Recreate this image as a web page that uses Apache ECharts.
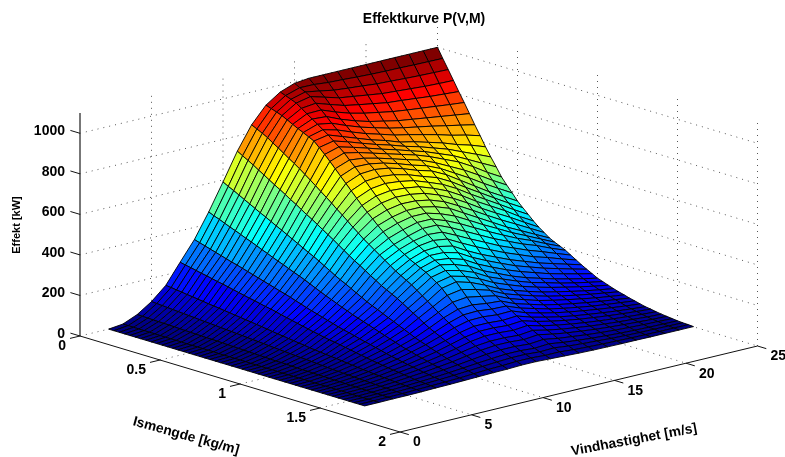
<!DOCTYPE html>
<html><head><meta charset="utf-8">
<style>html,body{margin:0;padding:0;background:#fff}#c{width:785px;height:457px;filter:blur(0.35px)}</style>
<script src="https://cdn.jsdelivr.net/npm/echarts@6/dist/echarts.min.js"></script>
</head><body><div id="c"></div>
<script>
const windSpeeds=[2,3,4,5,6,7,8,9,10,11,12,13,14,15,16,17,18,19,20,21,22,23,24,25];
const iceAmounts=[0,.033,.067,.1,.133,.167,.2,.233,.267,.3,.333,.367,.4,.433,.467,.5,.533,.567,.6,.633,.667,.7,.733,.767,.8,.833,.867,.9,.933,.967,1,1.033,1.067,1.1,1.133,1.167,1.2,1.233,1.267,1.3,1.333,1.367,1.4,1.433,1.467,1.5,1.533,1.567,1.6];
const powerV02=[0,0,0,0,0,0,0,0,0,0,0,0,0,0,0,0,0,0,0,0,0,0,0,0,0,0,0,0,0,0,0,0,0,0,0,0,0,0,0,0,0,0,0,0,0,0,0,0,0];
const powerV03=[8,8,8,7,7,7,7,6,6,6,6,6,5,5,5,5,5,5,4,4,4,4,4,4,3,3,3,3,3,3,2,2,2,2,2,2,1,1,1,1,1,1,1,0,0,0,0,0,0];
const powerV04=[38,37,36,35,34,34,33,32,31,30,29,28,27,26,26,25,24,23,22,21,20,19,18,17,16,15,14,14,13,12,11,10,10,9,8,8,7,6,6,5,4,4,3,3,2,2,2,1,1];
const powerV05=[85,83,81,79,77,75,73,71,69,67,65,63,61,59,57,55,53,51,49,47,45,43,41,39,37,35,33,31,29,28,26,24,22,20,18,17,15,14,12,11,10,8,7,6,5,4,3,2,1];
const powerV06=[148,145,141,138,134,131,127,124,120,117,114,110,107,103,100,96,93,89,86,82,78,74,71,67,64,60,57,53,50,47,44,41,39,36,33,30,27,24,22,19,17,15,13,11,9,7,5,4,2];
const powerV07=[245,239,234,228,222,217,211,205,200,194,188,182,176,170,165,159,153,148,142,135,129,123,117,111,105,99,94,88,83,79,74,69,64,59,54,49,44,40,36,32,28,25,21,18,14,11,9,6,4];
const powerV08=[340,332,324,316,308,300,292,284,277,269,261,253,245,237,229,221,213,205,197,188,179,170,162,154,146,138,130,122,115,109,102,95,88,82,75,68,61,55,50,44,39,34,29,24,20,15,12,8,5];
const powerV09=[459,448,438,427,416,406,395,384,374,363,352,341,330,319,309,298,287,277,266,254,242,230,219,208,197,186,176,165,156,147,138,129,119,110,101,92,83,75,68,60,53,46,39,33,27,21,16,11,7];
const powerV10=[590,576,563,549,535,521,507,493,480,466,452,439,425,411,397,383,369,356,342,326,311,295,281,268,254,240,226,212,200,189,177,165,154,142,130,118,106,96,87,77,68,59,50,42,35,27,21,15,9];
const powerV11=[725,710,695,680,663,647,630,614,598,582,565,549,532,515,499,482,465,447,430,412,393,375,358,342,325,308,292,275,262,248,235,219,202,186,170,153,137,124,111,98,87,75,64,54,44,34,26,19,11];
const powerV12=[838,825,812,798,780,763,745,727,710,692,672,652,632,611,591,570,548,527,505,483,462,440,422,403,385,367,348,330,315,300,285,266,247,228,209,189,170,153,137,120,106,92,78,65,53,40,31,21,12];
const powerV13=[918,909,900,890,877,863,850,838,825,812,788,762,735,707,678,650,622,593,565,540,515,490,467,443,420,403,387,370,357,343,330,313,295,275,248,222,195,175,155,135,118,102,85,72,58,45,35,25,15];
const powerV14=[966,956,946,935,917,898,880,862,843,825,803,782,760,733,707,680,652,623,595,568,542,515,492,468,445,428,412,395,380,365,350,330,310,290,260,230,200,178,157,135,118,102,85,72,58,45,35,25,15];
const powerV15=[992,978,965,950,925,900,875,850,825,800,782,763,745,725,705,685,658,632,605,580,555,530,508,487,465,443,422,400,378,357,335,313,292,270,243,217,190,170,150,130,113,97,80,67,53,40,30,21,12];
const powerV16=[1000,977,953,930,902,873,845,822,798,775,758,742,725,708,692,675,650,625,600,577,553,530,508,487,465,438,412,385,360,335,310,287,263,240,222,203,185,168,152,135,119,104,88,74,59,45,33,21,9];
const powerV17=[1000,970,940,910,880,850,820,797,773,750,735,720,705,688,672,655,633,612,590,565,540,515,488,462,435,405,375,345,320,295,270,248,227,205,188,172,155,141,126,112,99,85,72,60,47,35,25,15,6];
const powerV18=[1000,967,933,900,867,833,800,777,753,730,715,700,685,667,648,630,608,587,565,540,515,490,460,430,400,370,340,310,287,263,240,220,200,180,165,150,135,122,108,95,83,72,60,49,39,28,20,12,4];
const powerV19=[1000,963,927,890,855,820,785,758,732,705,692,678,665,647,628,610,585,560,535,507,478,450,422,393,365,337,308,280,257,233,210,193,175,158,144,129,115,103,92,80,70,60,50,41,31,22,16,9,3];
const powerV20=[1000,960,920,880,843,807,770,743,717,690,673,657,640,618,597,575,548,522,495,467,438,410,383,357,330,303,277,250,228,207,185,169,154,138,125,113,100,89,79,68,59,50,41,33,25,17,12,7,2];
const powerV21=[1000,958,917,875,837,798,760,730,700,670,650,630,610,583,557,530,503,477,450,423,397,370,347,323,300,275,250,225,205,185,165,151,136,122,110,99,87,77,68,58,50,42,34,27,20,13,9,5,2];
const powerV22=[1000,957,913,870,830,790,750,717,683,650,627,603,580,548,517,485,460,435,410,383,357,330,310,290,270,247,223,200,182,163,145,132,120,107,96,86,75,66,58,49,42,35,28,22,16,10,7,4,1];
const powerV23=[1000,955,910,865,823,782,740,702,663,625,597,568,540,507,473,440,417,393,370,345,320,295,278,262,245,223,202,180,163,145,128,116,105,93,84,74,65,57,49,41,35,29,23,18,13,8,6,3,1];
const powerV24=[1000,954,908,862,818,774,730,688,647,605,568,532,495,463,432,400,375,350,325,303,282,260,245,230,215,197,178,160,144,128,112,102,91,81,73,64,56,49,41,34,29,23,18,14,11,7,5,3,1];
const powerV25=[1000,953,906,860,813,767,720,673,627,580,538,497,455,423,392,360,335,310,285,263,244,225,212,200,188,172,156,140,126,112,98,89,79,70,62,55,47,41,34,28,24,19,15,12,9,6,4,3,1];
const powerRows=[powerV02,powerV03,powerV04,powerV05,powerV06,powerV07,powerV08,powerV09,powerV10,powerV11,powerV12,powerV13,powerV14,powerV15,powerV16,powerV17,powerV18,powerV19,powerV20,powerV21,powerV22,powerV23,powerV24,powerV25];
const powerTicks=[0,200,400,600,800,1000];
const iceTicks=[0,0.5,1,1.5,2];
const windTicks=[0,5,10,15,20,25];
const powerTop=1100, iceTop=2, windTop=25, colourTop=1000;

function project(v,m,p){return [80+160*m+14.3*v, 336+48*m-3.44*v-0.2027*p];}
function jet(t){t=Math.max(0,Math.min(1,t));
  const c=x=>Math.round(255*Math.max(0,Math.min(1,1.5-Math.abs(4*t-x))));
  return 'rgb('+c(3)+','+c(2)+','+c(1)+')';}

const cells=[];
for(let i=windSpeeds.length-2;i>=0;i--)for(let j=0;j<iceAmounts.length-1;j++)cells.push([i,j]);

const gridLines=[];
for(const z of powerTicks){ if(z===0)continue;
  gridLines.push([[0,0,z],[windTop,0,z]],[[windTop,0,z],[windTop,iceTop,z]]);}
gridLines.push([[windTop,0,0],[windTop,0,powerTop]]);
for(const v of windTicks){
  if(v>0&&v<windTop) gridLines.push([[v,0,0],[v,0,powerTop]]);
  if(v>0&&v<windTop) gridLines.push([[v,0,0],[v,iceTop,0]]);
}
for(const m of iceTicks){
  if(m>0) gridLines.push([[windTop,m,0],[windTop,m,powerTop]]);
  if(m>0&&m<iceTop) gridLines.push([[0,m,0],[windTop,m,0]]);
}
gridLines.push([[0,0,0],[windTop,0,0]],[[windTop,0,0],[windTop,iceTop,0]]);

const axisLines=[
  [[0,0,0],[0,0,powerTop]],[[0,0,0],[0,iceTop,0]],[[0,iceTop,0],[windTop,iceTop,0]]];
for(const z of powerTicks) axisLines.push([[0,0,z],[0,-0.06,z]]);
for(const m of iceTicks) axisLines.push([[0,m,0],[-0.7,m,0]]);
for(const v of windTicks) axisLines.push([[v,iceTop,0],[v,iceTop+0.055,0]]);

const labels=[];
for(const z of powerTicks) labels.push({t:String(z),c:project(0,0,z),dx:-15,dy:-2,a:'right'});
for(const m of iceTicks) labels.push({t:String(m),c:project(0,m,0),dx:-14,dy:10,a:'right'});
for(const v of windTicks) labels.push({t:String(v),c:project(v,iceTop,0),dx:13,dy:10.5,a:'left'});

const F='"Liberation Sans",Arial,sans-serif';
const idx=a=>a.map((_,i)=>[i,i]);
const chart=echarts.init(document.getElementById('c'),null,{renderer:'canvas',width:785,height:457});
function lineSeries(list,z,style){return {type:'custom',coordinateSystem:'cartesian2d',z,silent:true,clip:false,animation:false,
  data:idx(list),renderItem:(p,api)=>{const l=list[p.dataIndex];
    const a=api.coord(project(l[0][0],l[0][1],l[0][2])),b=api.coord(project(l[1][0],l[1][1],l[1][2]));
    return {type:'line',shape:{x1:a[0],y1:a[1],x2:b[0],y2:b[1]},style:style(l)};}};}
chart.setOption({
  animation:false,
  title:{text:'Effektkurve P(V,M)',left:419,top:7,textAlign:'center',textStyle:{fontFamily:F,fontSize:14,fontWeight:'bold',color:'#000'}},
  grid:{left:0,right:0,top:0,bottom:0},
  xAxis:{type:'value',min:0,max:785,show:false},
  yAxis:{type:'value',min:0,max:457,inverse:true,show:false},
  graphic:[
    {type:'text',x:186,y:436,rotation:-15.5*Math.PI/180,style:{text:'Ismengde [kg/m]',font:'bold 13.8px '+F,fill:'#000',align:'center',verticalAlign:'middle'}},
    {type:'text',x:634,y:440,rotation:10.6*Math.PI/180,style:{text:'Vindhastighet [m/s]',font:'bold 13.8px '+F,fill:'#000',align:'center',verticalAlign:'middle'}},
    {type:'text',x:17,y:225,rotation:Math.PI/2,style:{text:'Effekt [kW]',font:'bold 11px '+F,fill:'#000',align:'center',verticalAlign:'middle'}}
  ],
  series:[
    lineSeries(gridLines,1,()=>({stroke:'#555',lineWidth:1,lineDash:[1,5]})),
    {type:'custom',coordinateSystem:'cartesian2d',z:2,silent:true,clip:false,animation:false,data:cells,
     renderItem:(p,api)=>{const [i,j]=cells[p.dataIndex];
       const pts=[[i,j],[i+1,j],[i+1,j+1],[i,j+1]].map(q=>api.coord(project(windSpeeds[q[0]],iceAmounts[q[1]],powerRows[q[0]][q[1]])));
       return {type:'polygon',shape:{points:pts},style:{fill:jet(powerRows[i][j]/colourTop),stroke:'#000',lineWidth:0.9,lineJoin:'round'}};}},
    lineSeries(axisLines,3,l=>({stroke:(l[1][2]===powerTop)?'#555':'#111',lineWidth:(l[1][2]===powerTop)?1.6:1})),
    {type:'custom',coordinateSystem:'cartesian2d',z:4,silent:true,clip:false,animation:false,data:idx(labels),
     renderItem:(p,api)=>{const l=labels[p.dataIndex],c=api.coord(l.c);
       return {type:'text',x:c[0]+l.dx,y:c[1]+l.dy,style:{text:l.t,font:'bold 14px '+F,fill:'#000',align:l.a,verticalAlign:'middle'}};}}
  ]
});
</script></body></html>
